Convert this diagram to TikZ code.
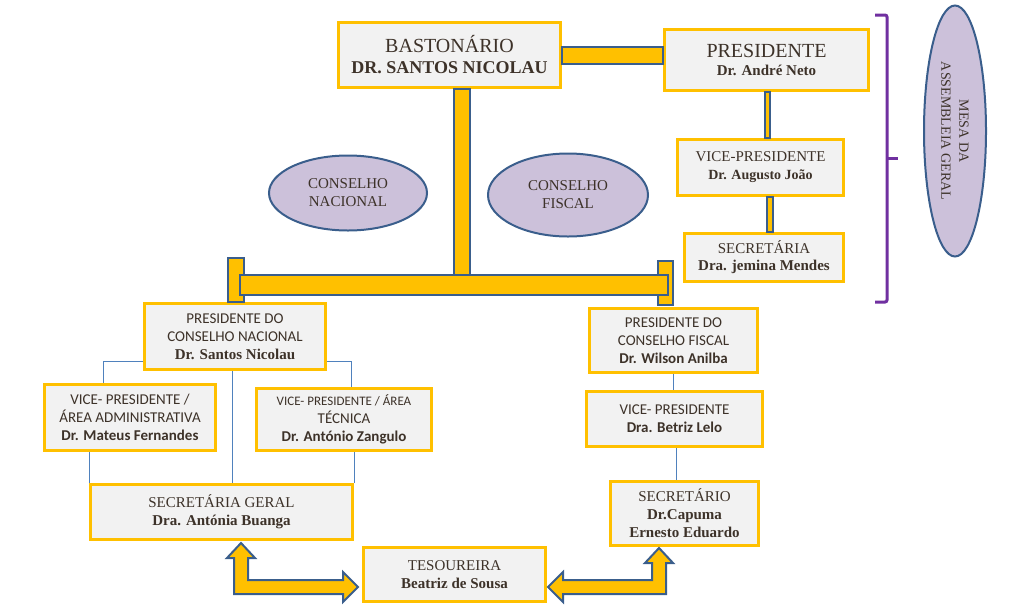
\documentclass[tikz,border=0pt]{standalone}
\usepackage{fontspec}
\setmainfont{Liberation Serif}
\newfontfamily\calibri{Carlito}
\usetikzlibrary{calc,shapes.geometric}

\definecolor{boxgold}{HTML}{FFC000}
\definecolor{boxfill}{HTML}{F2F2F2}
\definecolor{barblue}{HTML}{3A5E8C}
\definecolor{linkblue}{HTML}{4F81BD}
\definecolor{lilac}{HTML}{CCC1DA}
\definecolor{braceviolet}{HTML}{7030A0}
\definecolor{ink}{HTML}{3D3229}

\begin{document}
\begin{tikzpicture}[x=1pt, y=-1pt, line join=miter,
  orgbox/.style={draw=boxgold, fill=boxfill, line width=3pt, inner sep=0pt, align=center, text=ink},
  council/.style={ellipse, draw=barblue, fill=lilac, line width=2pt, inner sep=0pt, align=center, text=ink, font=\fontsize{15}{18}\selectfont},
  bar/.style={draw=barblue, fill=boxgold, line width=2pt},
  link/.style={draw=linkblue, line width=0.8pt},
  serif/.style={font=\fontsize{15}{18}\selectfont},
  sans/.style={font=\calibri\fontsize{15}{18}\selectfont}]
  \useasboundingbox (0,0) rectangle (1035,611);
  % Top: bastonario and the general assembly table.
  \node[orgbox, minimum width=222pt, minimum height=65pt, font=\fontsize{20}{21}\selectfont] (bast) at (449.5,55)
    {BASTONÁRIO\\{\fontsize{18}{21}\selectfont\bfseries DR. SANTOS NICOLAU}};
  \node[orgbox, minimum width=204pt, minimum height=61pt, font=\fontsize{20}{18}\selectfont] (pres) at (766.5,60)
    {PRESIDENTE\\{\fontsize{15}{18}\selectfont\bfseries Dr. André Neto}};
  \node[orgbox, minimum width=166pt, minimum height=56pt, serif] (vice) at (760.5,167.5)
    {VICE-PRESIDENTE\\{\fontsize{14}{18}\selectfont\bfseries Dr. Augusto João}};
  \node[orgbox, minimum width=159pt, minimum height=48pt, font=\fontsize{15}{17}\selectfont] (sec) at (764,257.5)
    {SECRETÁRIA\\\textbf{Dra. jemina Mendes}};
  \node[council, minimum width=158pt, minimum height=75pt] (cn) at (348,193) {CONSELHO\\NACIONAL};
  \node[council, minimum width=160pt, minimum height=83pt] (cf) at (568,195) {CONSELHO\\FISCAL};
  \node[council, rotate=-90, minimum width=251pt, minimum height=62pt, font=\fontsize{14}{18}\selectfont] (mesa) at (955,131)
    {MESA DA\\ASSEMBLEIA GERAL};
  \draw[braceviolet, line width=3pt, rounded corners=2pt] (875,15) -- (887,15) -- (887,302) -- (875,302);
  \draw[braceviolet, line width=3pt] (887,158) -- (898,158);
  % National council (left).
  \node[orgbox, minimum width=181pt, minimum height=66pt, sans] (pcn) at (235,336.5)
    {PRESIDENTE DO\\CONSELHO NACIONAL\\{\rmfamily\bfseries Dr. Santos Nicolau}};
  \node[orgbox, minimum width=171pt, minimum height=66pt, sans] (vpa) at (130,417.5)
    {VICE- PRESIDENTE /\\ÁREA ADMINISTRATIVA\\\textbf{Dr. Mateus Fernandes}};
  \node[orgbox, minimum width=175pt, minimum height=62pt, sans] (vpt) at (344,419.5)
    {{\fontsize{13}{18}\selectfont VICE- PRESIDENTE / ÁREA}\\TÉCNICA\\\textbf{Dr. António Zangulo}};
  \node[orgbox, minimum width=262pt, minimum height=55pt, serif] (sg) at (221.5,512)
    {SECRETÁRIA GERAL\\\textbf{Dra. Antónia Buanga}};
  \node[orgbox, minimum width=182pt, minimum height=54pt, serif] (tes) at (454.5,574.5)
    {TESOUREIRA\\\textbf{Beatriz de Sousa}};
  % Fiscal council (right).
  \node[orgbox, minimum width=168pt, minimum height=64pt, sans] (pcf) at (673.5,340.5)
    {PRESIDENTE DO\\CONSELHO FISCAL\\\textbf{Dr. Wilson Anilba}};
  \node[orgbox, minimum width=176pt, minimum height=55pt, sans] (vpf) at (674.5,419)
    {VICE- PRESIDENTE\\\textbf{Dra. Betriz Lelo}};
  \node[orgbox, minimum width=148pt, minimum height=64pt, serif] (secf) at (684.5,513.5)
    {SECRETÁRIO\\\textbf{Dr.Capuma}\\\textbf{Ernesto Eduardo}};
  % Thick bars.
  \draw[bar] ($(bast.east)+(0,-8)$) rectangle ($(pres.west |- bast.east)+(0,9)$);
  \draw[bar] ($(pres.south)+(-2,0)$) rectangle ($(pres.south |- vice.north)+(3,0)$);
  \draw[bar] ($(vice.south)+(6,0)$) rectangle ($(vice.south |- sec.north)+(12,0)$);
  \draw[bar] ($(pcn.north)+(-7,-44)$) rectangle ($(pcn.north)+(9,0)$);
  \draw[bar] ($(pcf.north)+(-16,-46)$) rectangle ($(pcf.north)+(-1,-2)$);
  \draw[bar] ($(bast.south)+(4,0)$) rectangle ($(bast.south)+(20,186)$);
  \draw[bar] ($(pcn.north)+(5,-27)$) rectangle ($(pcf.north)+(-6,-12)$);
  % Thin links.
  \draw[link] ($(pcn.south west)+(0,-9.5)$) -| ($(vpa.north)+(-27,0)$);
  \draw[link] ($(pcn.south east)+(0,-9.5)$) -| ($(vpt.north)+(7,0)$);
  \draw[link] ($(pcn.south)+(-3,0)$) -- ($(pcn.south |- sg.north)+(-3,0)$);
  \draw[link] (vpa.south -| sg.north west) -- (sg.north west);
  \draw[link] (vpt.south -| sg.north east) -- (sg.north east);
  \draw[link] (pcf.south) -- (pcf.south |- vpf.north);
  \draw[link] ($(vpf.south)+(1.5,0)$) -- ($(vpf.south |- secf.north)+(1.5,0)$);
  % Block arrows to the treasurer.
  \coordinate (sgtip) at ($(sg.south)+(19.5,2)$);
  \coordinate (tesw) at ($(tes.west)+(-4,12.5)$);
  \coordinate (tese) at ($(tes.east)+(1,12.5)$);
  \coordinate (secftip) at ($(secf.south)+(-25.5,1)$);
  \draw[bar] (sgtip) -- ++(14,15) -- ++(-7,0) -- ($(sgtip |- tesw)+(7,-7)$) -- ($(tesw)+(-15,-7)$)
    -- ++(0,-8) -- (tesw) -- ++(-15,15) -- ++(0,-8) -- ($(sgtip |- tesw)+(-7,7)$)
    -- ($(sgtip)+(-7,15)$) -- ++(-7,0) -- cycle;
  \draw[bar] (tese) -- ++(15,-15) -- ++(0,8) -- ($(secftip |- tese)+(-7,-7)$) -- ($(secftip)+(-7,15)$)
    -- ++(-7,0) -- (secftip) -- ++(14,15) -- ++(-7,0) -- ($(secftip |- tese)+(7,7)$)
    -- ($(tese)+(15,7)$) -- ++(0,8) -- cycle;
\end{tikzpicture}
\end{document}
